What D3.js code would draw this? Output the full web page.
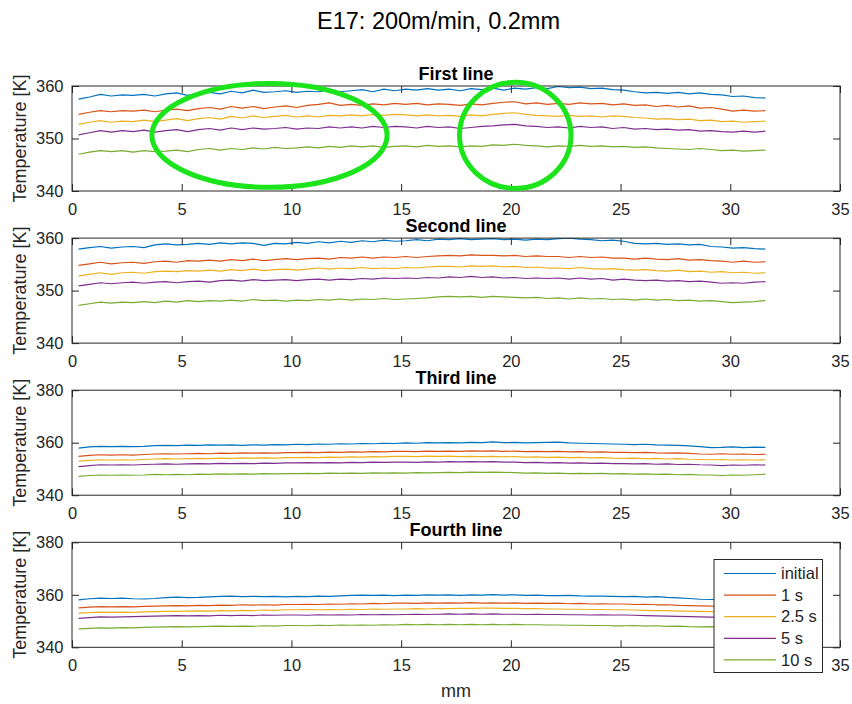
<!DOCTYPE html>
<html>
<head>
<meta charset="utf-8">
<script src="https://cdn.jsdelivr.net/npm/d3@7"></script>
<style>
  html, body { margin: 0; padding: 0; background: #fff; }
  svg { display: block; }
</style>
</head>
<body>
<svg id="chart" width="852" height="704"></svg>
<script>
// Figure title and panel titles
const figureTitle = "E17: 200m/min, 0.2mm";
const panelTitles = ["First line", "Second line", "Third line", "Fourth line"];
const seriesNames = ["initial", "1 s", "2.5 s", "5 s", "10 s"];
const seriesColors = ["#0072BD", "#D95319", "#EDB120", "#7E2F8E", "#77AC30"];

// Axis ticks
const xTicks = [0, 5, 10, 15, 20, 25, 30, 35];
const yTicksNarrow = [340, 350, 360];
const yTicksWide = [340, 360, 380];
const yDomains = [[340, 360], [340, 360], [340, 380], [340, 380]];

// Sampling positions along the line, mm (64 evenly spaced samples)
const positionsMM = d3.range(64).map(i => 0.3 + i * (31.3 / 63));

// First line temperatures [K]
const l1Initial = [357.5,357.9,358.4,358.1,358.3,358.2,358.4,358.1,358.5,358.7,358.2,358.6,358.8,358.5,359.0,358.7,359.2,358.8,358.9,359.1,358.8,359.0,358.9,359.2,358.9,359.1,359.3,358.9,359.4,359.1,359.4,359.2,359.5,359.2,359.4,359.1,359.5,359.3,359.6,359.2,359.6,359.4,359.7,359.5,359.9,359.7,359.8,359.5,359.6,359.3,359.2,358.9,358.7,358.8,358.6,358.8,358.5,358.7,358.4,358.3,358.0,358.1,357.8,357.7];
const l1S1 = [354.6,355.0,355.3,355.1,355.3,355.2,355.4,355.1,355.4,355.6,355.3,355.7,355.9,355.6,356.1,355.8,356.1,355.7,356.0,356.2,355.9,356.3,356.5,356.8,356.3,356.5,356.3,356.6,356.4,356.7,356.5,356.7,356.4,356.6,356.5,356.3,356.6,356.4,356.7,356.9,357.0,356.6,356.8,356.5,356.7,356.5,356.8,356.6,356.7,356.4,356.6,356.3,356.4,356.1,356.3,356.0,356.2,355.8,355.9,355.6,355.2,355.4,355.2,355.3];
const l1S25 = [352.7,353.1,353.4,353.1,353.3,353.2,353.5,353.2,353.5,353.8,353.4,353.8,354.0,353.7,354.2,353.9,354.3,354.0,354.2,354.4,354.1,354.3,354.1,354.4,354.3,354.5,354.3,354.6,354.4,354.6,354.5,354.3,354.5,354.3,354.4,354.2,354.5,354.3,354.6,354.8,354.9,354.6,354.4,354.3,354.2,354.4,354.2,354.3,354.1,354.3,354.2,354.0,353.9,353.7,353.8,353.6,353.7,353.4,353.5,353.2,353.3,353.1,353.2,353.3];
const l1S5 = [350.7,351.1,351.5,351.2,351.5,351.3,351.6,351.2,351.5,351.7,351.3,351.7,351.9,351.6,352.0,351.7,352.0,351.8,351.9,352.1,351.8,352.0,351.9,352.2,352.0,352.2,352.0,352.3,352.1,352.3,352.2,352.0,352.3,352.1,352.2,351.9,352.1,352.3,352.4,352.6,352.7,352.4,352.3,352.1,352.2,352.0,352.3,352.1,352.2,351.9,352.1,351.8,351.9,351.7,351.8,351.6,351.7,351.4,351.5,351.3,351.2,351.4,351.2,351.4];
const l1S10 = [347.0,347.4,347.7,347.5,347.7,347.4,347.7,347.5,347.6,347.8,347.5,347.9,348.1,347.8,348.1,347.9,348.2,348.0,348.3,348.1,348.2,348.4,348.2,348.5,348.3,348.6,348.4,348.6,348.3,348.5,348.6,348.4,348.7,348.5,348.6,348.4,348.6,348.5,348.8,348.7,348.9,348.7,348.6,348.4,348.6,348.5,348.7,348.5,348.6,348.4,348.5,348.3,348.4,348.2,348.1,348.0,347.9,348.1,347.9,347.7,347.8,347.6,347.7,347.8];

// Second line temperatures [K]
const l2Initial = [357.9,358.2,358.4,358.1,358.3,358.4,358.2,358.7,358.9,358.7,358.8,359.0,358.8,359.1,358.9,359.1,359.0,358.6,359.0,358.9,359.2,359.0,359.3,359.1,359.4,359.2,359.5,359.3,359.6,359.4,359.5,359.7,359.5,359.8,359.7,359.9,359.7,359.8,359.9,359.7,359.8,359.6,359.8,359.7,359.9,360.0,359.8,359.7,359.5,359.6,359.4,359.0,358.9,359.0,358.8,358.9,358.7,358.8,358.4,358.3,358.1,358.2,358.0,357.9];
const l2S1 = [354.8,355.1,355.4,355.1,355.3,355.4,355.2,355.5,355.6,355.4,355.7,355.6,355.8,355.6,355.9,355.7,356.0,355.7,355.9,356.1,355.9,356.1,356.2,356.0,356.3,356.2,356.4,356.2,356.4,356.3,356.5,356.3,356.5,356.6,356.7,356.6,356.8,356.7,356.7,356.6,356.7,356.5,356.6,356.5,356.5,356.3,356.5,356.3,356.4,356.2,356.2,356.0,356.2,356.0,355.9,356.1,355.8,355.9,355.7,355.6,355.4,355.6,355.4,355.5];
const l2S25 = [352.8,353.1,353.4,353.1,353.4,353.5,353.3,353.6,353.7,353.6,353.8,353.7,353.9,353.7,354.0,353.8,354.1,353.8,354.0,354.1,353.9,354.1,354.3,354.1,354.3,354.2,354.4,354.2,354.3,354.2,354.4,354.3,354.5,354.6,354.6,354.5,354.7,354.6,354.7,354.5,354.6,354.4,354.5,354.3,354.3,354.2,354.4,354.2,354.1,354.2,354.0,353.9,354.0,353.8,353.7,353.9,353.6,353.7,353.5,353.6,353.4,353.5,353.3,353.4];
const l2S5 = [350.9,351.2,351.5,351.3,351.5,351.6,351.4,351.6,351.7,351.5,351.7,351.8,351.6,351.9,352.0,351.8,352.1,351.9,352.0,352.1,351.9,352.1,352.2,352.0,352.2,352.1,352.3,352.2,352.4,352.3,352.4,352.3,352.5,352.4,352.6,352.5,352.7,352.5,352.6,352.4,352.5,352.3,352.4,352.3,352.4,352.2,352.4,352.2,352.3,352.0,352.2,352.0,351.9,352.0,351.8,351.9,351.7,351.8,351.6,351.4,351.5,351.4,351.6,351.7];
const l2S10 = [347.2,347.5,347.8,347.6,347.8,347.7,347.9,347.7,348.0,347.8,348.1,347.9,348.1,348.0,348.2,348.0,348.3,348.1,348.2,348.0,348.2,348.1,348.3,348.2,348.4,348.2,348.4,348.3,348.5,348.3,348.4,348.5,348.6,348.8,348.9,348.8,348.9,348.7,348.9,348.8,348.7,348.6,348.7,348.5,348.6,348.4,348.6,348.4,348.5,348.3,348.4,348.2,348.4,348.2,348.3,348.1,348.2,348.0,348.1,347.9,347.7,347.8,347.9,348.1];

// Third line temperatures [K]
const l3Initial = [357.9,358.4,358.6,358.5,358.6,358.5,358.6,358.9,359.0,358.9,359.1,359.0,359.2,359.1,359.2,359.0,359.2,359.1,359.3,359.2,359.4,359.3,359.5,359.4,359.6,359.5,359.7,359.6,359.8,359.7,359.9,359.8,360.0,359.9,360.0,359.9,360.1,360.0,360.3,360.0,360.1,359.9,360.0,360.1,360.2,359.9,359.8,359.7,359.6,359.5,359.4,359.3,359.4,359.2,359.1,359.0,358.8,358.5,358.1,358.2,358.4,358.1,358.3,358.2];
const l3S1 = [354.8,355.2,355.4,355.3,355.4,355.3,355.5,355.7,355.8,355.7,355.8,355.9,355.8,356.0,355.9,356.1,356.0,356.1,356.0,356.2,356.2,356.3,356.2,356.4,356.3,356.5,356.4,356.6,356.5,356.7,356.7,356.6,356.8,356.7,356.8,356.7,356.9,356.8,356.9,356.7,356.8,356.6,356.7,356.6,356.7,356.5,356.6,356.4,356.5,356.3,356.3,356.2,356.3,356.1,356.0,356.1,355.9,355.7,355.6,355.8,355.6,355.7,355.5,355.6];
const l3S25 = [353.0,353.3,353.5,353.4,353.5,353.4,353.6,353.8,353.9,353.8,353.9,354.0,353.9,354.1,354.0,354.2,354.1,354.2,354.1,354.3,354.3,354.4,354.3,354.5,354.4,354.6,354.5,354.7,354.6,354.8,354.8,354.7,354.9,354.8,354.9,354.7,354.8,354.7,354.8,354.6,354.7,354.5,354.6,354.4,354.5,354.3,354.4,354.2,354.3,354.1,354.0,354.1,353.9,354.0,353.8,353.9,353.7,353.6,353.5,353.6,353.4,353.5,353.4,353.5];
const l3S5 = [350.9,351.3,351.6,351.5,351.6,351.5,351.7,351.8,351.9,351.8,351.9,352.0,351.9,352.1,352.0,352.1,352.0,352.2,352.1,352.3,352.3,352.4,352.3,352.4,352.3,352.5,352.4,352.6,352.5,352.6,352.6,352.5,352.7,352.6,352.8,352.7,352.8,352.7,352.8,352.6,352.6,352.4,352.5,352.3,352.4,352.2,352.3,352.1,352.2,352.0,352.0,351.9,352.0,351.8,351.9,351.7,351.8,351.6,351.5,351.3,351.5,351.4,351.6,351.5];
const l3S10 = [347.2,347.5,347.7,347.6,347.7,347.6,347.7,347.9,347.8,347.9,347.8,348.0,347.9,348.1,348.0,348.1,348.0,348.2,348.1,348.2,348.2,348.3,348.2,348.4,348.3,348.4,348.3,348.5,348.4,348.5,348.4,348.6,348.5,348.6,348.7,348.6,348.8,348.7,348.8,348.7,348.6,348.4,348.5,348.3,348.4,348.2,348.3,348.2,348.3,348.1,348.2,348.0,348.1,347.9,348.0,347.8,347.9,347.7,347.7,347.5,347.7,347.6,347.8,348.0];

// Fourth line temperatures [K]
const l4Initial = [358.1,358.5,358.7,358.6,358.7,358.5,358.4,358.6,358.9,359.1,358.9,359.0,359.2,359.4,359.5,359.3,359.4,359.3,359.4,359.2,359.4,359.3,359.5,359.4,359.6,359.8,359.9,359.8,359.9,359.7,359.9,359.8,360.0,359.9,360.0,359.8,360.0,359.9,360.1,359.9,360.0,359.8,359.9,359.7,359.7,359.8,359.6,359.5,359.5,359.4,359.3,359.4,359.1,359.3,359.0,358.8,358.6,358.3,358.2,358.3,358.1,358.2,358.0,358.1];
const l4S1 = [355.0,355.3,355.5,355.4,355.5,355.4,355.6,355.7,355.8,355.9,355.8,356.0,355.9,356.1,356.0,356.2,356.1,356.2,356.1,356.3,356.3,356.4,356.3,356.5,356.4,356.6,356.5,356.7,356.6,356.8,356.8,356.7,356.9,356.8,356.9,356.8,357.0,356.8,356.9,356.8,356.9,356.7,356.8,356.7,356.8,356.6,356.7,356.5,356.6,356.5,356.5,356.3,356.4,356.2,356.2,356.0,355.9,355.8,355.7,355.6,355.6,355.5,355.6,355.5];
const l4S25 = [353.0,353.2,353.4,353.3,353.4,353.3,353.5,353.6,353.7,353.7,353.8,353.9,353.8,354.0,353.9,354.1,354.0,354.2,354.1,354.3,354.3,354.4,354.3,354.4,354.3,354.5,354.4,354.6,354.5,354.6,354.6,354.7,354.6,354.8,354.7,354.8,354.8,354.9,354.9,354.8,354.8,354.7,354.7,354.6,354.6,354.5,354.5,354.4,354.4,354.3,354.3,354.2,354.1,354.0,354.0,353.8,353.8,353.7,353.6,353.5,353.5,353.4,353.5,353.4];
const l4S5 = [351.0,351.3,351.6,351.5,351.6,351.7,351.8,351.9,352.0,352.1,352.0,352.1,352.0,352.2,352.1,352.2,352.1,352.3,352.2,352.3,352.3,352.2,352.4,352.3,352.4,352.3,352.5,352.4,352.5,352.4,352.5,352.6,352.5,352.6,352.7,352.6,352.7,352.6,352.7,352.6,352.6,352.5,352.6,352.5,352.5,352.4,352.4,352.3,352.4,352.3,352.3,352.2,352.1,352.0,351.9,351.8,351.7,351.6,351.5,351.4,351.5,351.4,351.5,351.4];
const l4S10 = [347.0,347.2,347.4,347.3,347.5,347.4,347.6,347.7,347.8,347.9,347.8,347.9,348.0,348.1,348.0,348.1,348.0,348.2,348.1,348.3,348.3,348.2,348.4,348.3,348.5,348.4,348.5,348.4,348.6,348.5,348.7,348.6,348.7,348.6,348.7,348.6,348.7,348.6,348.7,348.6,348.7,348.6,348.6,348.5,348.5,348.4,348.4,348.3,348.3,348.2,348.2,348.3,348.1,348.2,348.0,348.1,347.9,347.8,347.9,347.8,347.7,347.8,347.7,347.8];

// Highlight ellipses on the first line (centre mm / K, half-axes mm / K)
const highlightCx = [9.0, 20.2];
const highlightCy = [350.6, 350.6];
const highlightRx = [5.36, 2.54];
const highlightRy = [9.9, 10.1];

const panelSeries = [
  [l1Initial, l1S1, l1S25, l1S5, l1S10],
  [l2Initial, l2S1, l2S25, l2S5, l2S10],
  [l3Initial, l3S1, l3S25, l3S5, l3S10],
  [l4Initial, l4S1, l4S25, l4S5, l4S10]
];
const panelYTicks = [yTicksNarrow, yTicksNarrow, yTicksWide, yTicksWide];

// ---- layout ----
const FONT = "'Liberation Sans', Arial, Helvetica, sans-serif";
const AXIS_COLOR = "#262626";
const plotLeft = 72, plotRight = 840;
const panelTop0 = 86, panelStep = 152.1, panelHeight = 105;
const tickLen = 7;

const svg = d3.select("#chart");

const x = d3.scaleLinear().domain([0, 35]).range([plotLeft, plotRight]);

svg.append("text")
  .attr("x", 438.5).attr("y", 28.5)
  .attr("text-anchor", "middle")
  .attr("font-family", FONT)
  .attr("font-size", 23.5)
  .attr("fill", "#000")
  .text(figureTitle);

const yScales = [];

panelSeries.forEach((series, p) => {
  const top = panelTop0 + p * panelStep;
  const bottom = top + panelHeight;
  const y = d3.scaleLinear().domain(yDomains[p]).range([bottom, top]);
  yScales.push(y);

  const g = svg.append("g");

  // clip region for the data lines
  const clipId = "clip" + p;
  svg.append("clipPath").attr("id", clipId)
    .append("rect")
    .attr("x", plotLeft).attr("y", top)
    .attr("width", plotRight - plotLeft).attr("height", panelHeight);

  // lines
  const line = d3.line()
    .x((d, i) => x(positionsMM[i]))
    .y(d => y(d));

  g.append("g").attr("clip-path", `url(#${clipId})`)
    .selectAll("path")
    .data(series)
    .join("path")
    .attr("d", d => line(d))
    .attr("fill", "none")
    .attr("stroke", (d, i) => seriesColors[i])
    .attr("stroke-width", 1.2)
    .attr("stroke-linejoin", "round");

  // axes with inward ticks, mirrored on top and right
  const styleAxis = sel => {
    sel.select(".domain").remove();
    sel.selectAll(".tick line").attr("stroke", AXIS_COLOR).attr("stroke-width", 1);
    sel.selectAll(".tick text")
      .attr("fill", AXIS_COLOR)
      .attr("font-family", FONT)
      .attr("font-size", 16.5);
  };

  g.append("g")
    .attr("transform", `translate(0,${bottom})`)
    .call(d3.axisBottom(x).tickValues(xTicks).tickFormat(d3.format("d"))
      .tickSizeInner(-tickLen).tickSizeOuter(0).tickPadding(12))
    .call(styleAxis);

  g.append("g")
    .attr("transform", `translate(0,${top})`)
    .call(d3.axisTop(x).tickValues(xTicks).tickFormat("")
      .tickSizeInner(-tickLen).tickSizeOuter(0))
    .call(styleAxis);

  g.append("g")
    .attr("transform", `translate(${plotLeft},0)`)
    .call(d3.axisLeft(y).tickValues(panelYTicks[p]).tickFormat(d3.format("d"))
      .tickSizeInner(-tickLen).tickSizeOuter(0).tickPadding(8.5))
    .call(styleAxis);

  g.append("g")
    .attr("transform", `translate(${plotRight},0)`)
    .call(d3.axisRight(y).tickValues(panelYTicks[p]).tickFormat("")
      .tickSizeInner(-tickLen).tickSizeOuter(0))
    .call(styleAxis);

  // box
  g.append("rect")
    .attr("x", plotLeft).attr("y", top)
    .attr("width", plotRight - plotLeft).attr("height", panelHeight)
    .attr("fill", "none")
    .attr("stroke", AXIS_COLOR)
    .attr("stroke-width", 1);

  // y label
  g.append("text")
    .attr("transform", `translate(26,${(top + bottom) / 2}) rotate(-90)`)
    .attr("text-anchor", "middle")
    .attr("font-family", FONT)
    .attr("font-size", 18)
    .attr("fill", AXIS_COLOR)
    .text("Temperature [K]");

  // panel title
  g.append("text")
    .attr("x", (plotLeft + plotRight) / 2)
    .attr("y", top - 6)
    .attr("text-anchor", "middle")
    .attr("font-family", FONT)
    .attr("font-size", 18)
    .attr("font-weight", "bold")
    .attr("fill", "#000")
    .text(panelTitles[p]);
});

// x label under the last panel
svg.append("text")
  .attr("x", (plotLeft + plotRight) / 2)
  .attr("y", 697)
  .attr("text-anchor", "middle")
  .attr("font-family", FONT)
  .attr("font-size", 18)
  .attr("fill", AXIS_COLOR)
  .text("mm");

// legend in the last panel
const legend = svg.append("g").attr("transform", "translate(714,559.5)");
legend.append("rect")
  .attr("width", 108.5).attr("height", 113)
  .attr("fill", "#fff")
  .attr("stroke", AXIS_COLOR)
  .attr("stroke-width", 1);
const entries = legend.selectAll("g.entry")
  .data(seriesNames)
  .join("g")
  .attr("class", "entry")
  .attr("transform", (d, i) => `translate(0,${14 + i * 21.6})`);
entries.append("line")
  .attr("x1", 10).attr("x2", 62)
  .attr("stroke", (d, i) => seriesColors[i])
  .attr("stroke-width", 1.2);
entries.append("text")
  .attr("x", 67).attr("dy", "0.35em")
  .attr("font-family", FONT)
  .attr("font-size", 16.5)
  .attr("fill", AXIS_COLOR)
  .text(d => d);

// green highlight ellipses on the first line
const y0 = yScales[0];
svg.append("g")
  .selectAll("ellipse")
  .data(highlightCx)
  .join("ellipse")
  .attr("cx", d => x(d))
  .attr("cy", (d, i) => y0(highlightCy[i]))
  .attr("rx", (d, i) => x(d + highlightRx[i]) - x(d))
  .attr("ry", (d, i) => y0(highlightCy[i] - highlightRy[i]) - y0(highlightCy[i]))
  .attr("fill", "none")
  .attr("stroke", "#1be41b")
  .attr("stroke-width", 5);
</script>
</body>
</html>
